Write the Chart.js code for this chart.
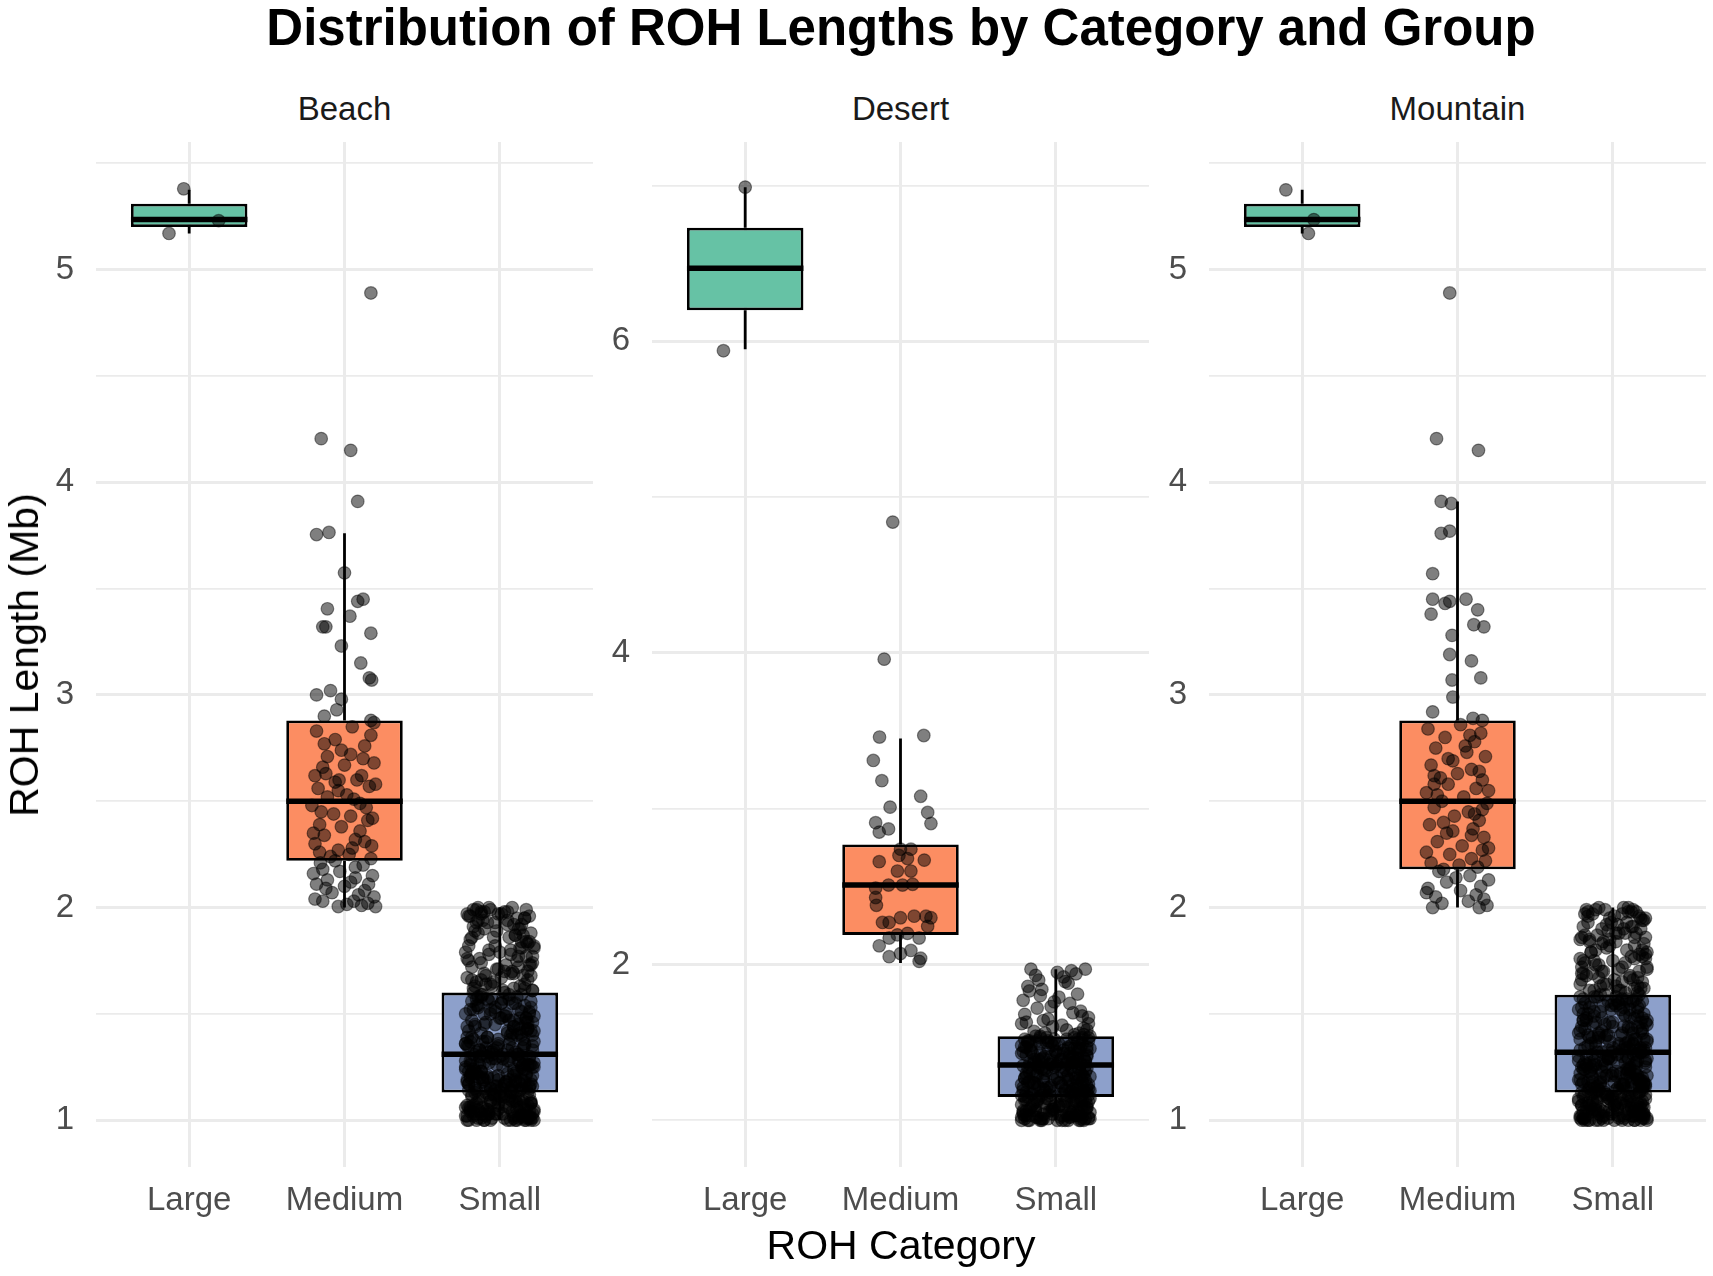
<!DOCTYPE html>
<html>
<head>
<meta charset="utf-8">
<script src="https://cdn.jsdelivr.net/npm/chart.js@4.4.0/dist/chart.umd.min.js"></script>
<style>
  body { margin: 0; background: #fff; width: 1713px; height: 1276px; position: relative; overflow: hidden;
         font-family: "Liberation Sans", Arial, sans-serif; }
  canvas { position: absolute; top: 130px; }
  #title { position: absolute; left: 96px; top: 0px; width: 1610px; text-align: center;
           font-weight: bold; font-size: 51px; line-height: 56px; color: #000; }
  .strip { position: absolute; top: 89px; width: 497px; text-align: center;
           font-size: 33px; line-height: 40px; color: #1a1a1a; }
  #xtitle { position: absolute; left: 96px; width: 1610px; top: 1221px; text-align: center;
            font-size: 41px; line-height: 48px; color: #000; }
  #ytitle { position: absolute; left: 24px; top: 655px; font-size: 41px; line-height: 48px; color: #000;
            white-space: nowrap; transform: translate(-50%, -50%) rotate(-90deg); }
</style>
</head>
<body>
<div id="title">Distribution of ROH Lengths by Category and Group</div>
<div class="strip" style="left:96px">Beach</div>
<div class="strip" style="left:652px">Desert</div>
<div class="strip" style="left:1209px">Mountain</div>
<canvas id="c0" width="593" height="1097" style="left:0px"></canvas>
<canvas id="c1" width="593" height="1097" style="left:556px"></canvas>
<canvas id="c2" width="593" height="1097" style="left:1113px"></canvas>
<div id="xtitle">ROH Category</div>
<div id="ytitle">ROH Length (Mb)</div>
<script>
const groups = ['Beach', 'Desert', 'Mountain'];
const categories = ['Large', 'Medium', 'Small'];
const boxColors = ['#66C2A5', '#FC8D62', '#8DA0CB'];

// box stats, one value per category (Large, Medium, Small)
const beachLow    = [5.17, 2.00, 1.00];
const beachQ1     = [5.20, 2.22, 1.13];
const beachMedian = [5.235, 2.50, 1.31];
const beachQ3     = [5.31, 2.88, 1.60];
const beachHigh   = [5.375, 3.76, 2.00];

const desertLow    = [5.95, 2.01, 1.00];
const desertQ1     = [6.20, 2.19, 1.15];
const desertMedian = [6.47, 2.51, 1.355];
const desertQ3     = [6.73, 2.77, 1.54];
const desertHigh   = [6.99, 3.45, 1.97];

const mountainLow    = [5.17, 2.00, 1.00];
const mountainQ1     = [5.20, 2.18, 1.13];
const mountainMedian = [5.235, 2.50, 1.32];
const mountainQ3     = [5.31, 2.88, 1.59];
const mountainHigh   = [5.375, 3.91, 2.00];

// y axes
const beachYRange = [0.78, 5.6];
const beachYTicks = [1, 1.5, 2, 2.5, 3, 3.5, 4, 4.5, 5, 5.5];
const beachYLabels = [1, 2, 3, 4, 5];
const desertYRange = [0.70, 7.28];
const desertYTicks = [1, 2, 3, 4, 5, 6, 7];
const desertYLabels = [2, 4, 6];

// jittered points: values and horizontal jitter (category units)
const beachLargeY = [5.38, 5.17, 5.23];
const beachLargeJit = [-0.035, -0.13, 0.19];
const beachMediumY = [4.89,4.205,4.15,3.91,3.754,3.764,3.574,3.405,3.37,3.44,3.45,3.32,3.32,3.29,3.23,3.15,3.08,3.07,3.0,3.02,2.98,2.90,2.93,2.88,2.87,
  2.83,2.77,2.71,2.72,2.76,2.70,2.66,2.67,2.60,2.60,2.59,2.56,2.57,2.52,2.53,2.49,2.48,2.44,2.43,2.39,2.38,2.41,2.34,2.32,2.30,2.27,2.29,2.24,2.25,2.21,
  2.20,2.16,2.17,2.13,2.14,2.11,2.11,2.10,2.07,2.06,2.05,2.03,2.015,2.005,2.005,2.02,
  2.85,2.81,2.74,2.68,2.63,2.62,2.58,2.55,2.51,2.47,2.45,2.42,2.36,2.35,2.31,2.28,2.26,2.23,2.22,2.19,2.18,2.15,2.12,2.09,2.08,2.04,2.03,2.01,2.62,2.79];
const beachMediumJit = [0.17,-0.15,0.04,0.085,-0.18,-0.10,0.0,-0.11,0.035,0.085,0.12,-0.14,-0.12,0.17,-0.02,0.105,0.16,0.175,-0.18,-0.09,-0.02,-0.13,-0.05,0.17,0.19,
  -0.18,-0.13,-0.11,0.04,0.13,0.12,-0.14,0.0,0.08,-0.035,-0.06,-0.17,0.16,-0.11,0.015,0.10,-0.21,-0.07,0.04,-0.16,-0.02,0.15,-0.13,0.07,-0.19,-0.04,0.175,-0.09,0.03,-0.155,
  0.12,-0.2,-0.03,-0.11,0.07,-0.18,0.155,0.0,-0.08,0.09,0.19,-0.14,0.015,-0.04,0.2,0.15,
  0.05,0.17,-0.02,0.19,-0.12,0.11,0.2,-0.04,0.06,0.14,-0.15,0.18,0.1,-0.2,0.13,0.05,-0.16,0.17,-0.06,0.07,-0.14,0.18,0.04,-0.12,0.13,-0.19,0.06,0.11,-0.19,-0.06];
const beachSmallY = [1.00,1.01,1.00,1.02,1.03,1.01,1.04,1.00,1.05,1.02,1.06,1.03,1.07,1.01,1.08,1.04,1.09,1.00,1.10,1.05,1.11,1.02,1.12,1.06,1.13,1.03,1.08,1.01,1.10,1.04,1.07,1.12,1.00,1.09,1.05,1.11,1.02,1.06,1.13,1.03,1.00,1.04,1.01,1.08,1.02,
  1.14,1.22,1.17,1.29,1.15,1.25,1.19,1.30,1.16,1.27,1.21,1.14,1.24,1.18,1.31,1.20,1.26,1.15,1.23,1.28,1.17,1.30,1.19,1.22,1.14,1.26,1.16,1.29,1.21,1.18,1.25,1.20,1.31,1.15,1.27,1.23,1.17,1.28,1.19,1.24,1.16,1.30,1.21,1.26,1.18,
  1.33,1.48,1.37,1.55,1.41,1.59,1.35,1.52,1.44,1.32,1.57,1.39,1.50,1.46,1.34,1.58,1.42,1.36,1.53,1.47,1.40,1.56,1.33,1.49,1.43,1.38,1.60,1.45,1.51,1.35,1.54,1.41,1.48,1.37,1.57,1.44,1.32,1.52,1.39,1.59,1.46,1.36,1.50,1.42,1.55,
  1.62,1.91,1.70,1.98,1.66,1.84,1.75,1.95,1.63,1.88,1.79,2.00,1.68,1.93,1.72,1.86,1.61,1.97,1.77,1.82,1.65,1.99,1.73,1.90,1.69,1.85,1.96,1.64,1.80,1.94,1.71,1.87,1.99,1.67,1.83,1.76,1.92,2.00,1.74,1.89,1.97,1.78,1.81,1.95,1.98,
  1.01,1.05,1.00,1.09,1.03,1.11,1.02,1.07,1.00,1.04,1.10,1.06,1.01,1.12,1.03,1.08,1.00,1.05,1.11,1.02,1.09,1.04,1.00,1.07,1.03,1.12,1.06,1.01,1.10,1.02,1.08,1.05,1.00,1.11,1.04,1.07,1.01,1.09,1.03,1.06,
  1.20,1.14,1.27,1.17,1.30,1.22,1.15,1.25,1.19,1.29,1.13,1.23,1.18,1.28,1.16,1.21,1.31,1.24,1.14,1.26,1.19,1.17,1.30,1.22,1.15,1.27,1.20,1.25,1.13,1.29,1.18,1.23,1.16,1.28,1.21,1.31,1.14,1.24,1.19,1.26,
  1.45,1.32,1.56,1.38,1.50,1.35,1.59,1.42,1.47,1.33,1.53,1.40,1.57,1.36,1.44,1.51,1.34,1.48,1.58,1.39,1.46,1.31,1.54,1.41,1.49,1.37,1.60,1.43,1.52,1.35,1.55,1.38,1.45,1.33,1.50,1.42,1.57,1.36,1.48,1.40,
  1.64,1.90,1.73,1.99,1.61,1.82,1.95,1.69,1.86,1.77,1.97,1.66,1.92,1.71,1.84,2.00,1.63,1.79,1.94,1.68,1.88,1.75,1.98,1.62,1.81,1.93,1.70,1.87,1.96,1.67,
  1.02,1.07,1.13,1.19,1.26,1.34,1.43,1.52,1.00,1.05,1.10,1.16,1.23,1.31,1.39,1.48,1.57,1.03,1.08,1.14,1.21,1.28,1.36,1.45,1.55,1.01,1.06,1.12,1.18,1.25,
  1.33,1.41,1.50,1.59,1.04,1.09,1.15,1.22,1.29,1.37,1.46,1.54,1.00,1.05,1.11,1.17,1.24,1.32,1.40,1.49,1.58,1.02,1.08,1.13,1.20,1.27,1.35,1.44,1.53,1.01,
  1.06,1.12,1.18,1.26,1.34,1.42,1.51,1.03,1.09,1.15,1.22,1.30,1.38,1.47,1.56,1.00,1.04,1.11,1.19,1.28,
  1.63,1.87,1.70,1.96,1.66,1.80,1.92,1.74,1.61,1.89,1.78,1.99,1.68,1.84,1.72,1.94,1.65,1.82,1.97,1.76,1.62,1.90,1.69,1.86,1.98,1.73,1.64,1.81,1.93,1.77];
const beachSmallJit = [-0.21,-0.12,0.05,0.18,-0.03,0.21,-0.17,0.10,-0.08,0.14,-0.20,0.02,0.16,-0.14,-0.05,0.08,0.20,-0.10,0.12,-0.19,0.00,0.19,-0.07,0.06,-0.16,0.15,-0.01,0.09,-0.13,0.22,0.04,-0.18,0.17,-0.06,0.11,-0.11,-0.22,0.13,0.07,-0.02,-0.15,-0.19,0.12,0.20,-0.09,
  0.11,-0.18,0.03,0.19,-0.09,0.14,-0.21,0.07,-0.02,-0.14,0.21,-0.06,0.09,0.16,-0.17,-0.04,0.18,0.01,-0.12,0.12,-0.20,-0.08,0.20,0.05,-0.15,0.15,0.08,-0.03,-0.19,0.10,0.22,-0.11,0.02,0.17,-0.07,-0.16,0.13,0.06,-0.10,-0.22,0.19,0.14,-0.01,-0.13,0.04,
  -0.04,0.17,-0.19,0.08,0.13,-0.11,0.21,-0.06,-0.16,0.10,0.02,-0.21,0.19,-0.09,0.15,-0.14,0.05,-0.01,0.20,-0.18,0.11,-0.07,-0.13,0.03,0.18,0.07,-0.17,-0.03,0.14,-0.20,0.16,-0.12,0.00,0.22,-0.05,0.09,-0.15,0.12,-0.08,0.06,0.21,-0.22,-0.10,0.17,0.01,
  0.09,-0.17,0.18,0.03,-0.12,0.14,-0.20,0.11,-0.05,0.20,0.00,-0.14,0.15,-0.08,-0.18,0.06,0.21,-0.21,0.12,-0.03,-0.15,0.17,0.04,0.13,-0.10,-0.19,0.19,0.16,0.07,-0.11,-0.02,0.10,-0.06,-0.21,0.18,-0.13,0.05,0.08,0.21,-0.16,-0.01,-0.07,0.14,0.16,-0.12,
  0.03,-0.14,0.16,-0.06,0.21,-0.18,0.09,-0.01,-0.20,0.13,0.06,-0.11,0.19,-0.04,-0.16,0.11,0.22,-0.08,0.01,-0.21,0.15,-0.13,0.07,0.18,-0.07,0.04,-0.19,0.20,-0.02,0.12,-0.15,0.17,-0.10,0.10,0.19,-0.17,-0.05,0.08,0.14,-0.22,
  -0.19,0.07,-0.10,0.20,0.00,-0.15,0.14,-0.22,0.10,-0.05,0.18,-0.12,0.04,-0.18,0.21,-0.08,0.12,0.16,-0.20,-0.02,0.06,-0.16,0.19,0.09,-0.06,0.22,-0.13,0.02,-0.09,0.15,-0.21,0.11,-0.03,0.05,0.17,-0.11,0.13,-0.17,-0.01,0.20,
  0.12,-0.07,0.20,-0.17,0.04,0.16,-0.12,-0.20,0.09,0.21,-0.03,0.14,-0.15,0.06,-0.21,0.19,-0.09,0.01,0.11,-0.18,0.17,-0.05,-0.14,0.08,0.22,-0.11,0.03,0.18,-0.19,-0.01,0.10,0.15,-0.16,0.05,-0.06,0.20,-0.08,-0.22,0.13,0.07,
  -0.09,0.12,0.19,-0.15,0.02,-0.20,0.16,0.07,-0.04,0.21,-0.12,-0.18,0.09,-0.01,0.17,-0.07,0.13,-0.22,0.05,0.20,-0.14,0.11,-0.10,-0.17,0.22,-0.03,0.08,0.15,-0.19,0.01,
  0.15,-0.21,0.08,-0.11,0.19,-0.02,0.13,-0.17,-0.06,0.22,-0.14,0.03,-0.20,0.11,-0.08,0.17,0.06,-0.12,0.20,-0.03,0.09,-0.19,0.16,-0.10,0.01,0.18,-0.16,-0.04,0.12,0.21,
  -0.13,0.05,-0.22,0.14,-0.07,0.10,0.19,-0.18,0.02,-0.09,0.18,-0.15,0.11,-0.01,0.07,-0.20,0.15,-0.05,0.21,0.04,-0.12,-0.17,0.20,0.00,-0.08,0.13,-0.21,0.09,-0.14,0.16,
  0.05,0.19,-0.11,-0.19,0.08,0.22,-0.03,-0.07,0.12,-0.16,0.17,-0.13,-0.01,0.06,-0.18,0.20,-0.10,0.03,0.14,-0.22,
  -0.16,0.10,0.03,-0.20,0.18,-0.07,0.14,-0.12,0.21,-0.02,0.07,-0.17,-0.09,0.19,0.12,-0.14,-0.04,0.22,0.01,-0.21,0.16,-0.10,0.09,-0.18,0.05,0.20,-0.06,0.13,-0.15,0.17];

const desertLargeY = [6.99, 5.94];
const desertLargeJit = [0.0, -0.14];
const desertMediumY = [4.84,3.96,3.46,3.47,3.31,3.18,3.08,3.01,2.976,2.905,2.91,2.85,2.87,
  2.74,2.74,2.70,2.68,2.66,2.67,2.60,2.60,2.49,2.51,2.51,2.515,2.43,2.38,2.27,2.27,2.30,2.31,2.31,2.30,2.245,2.19,2.17,2.20,2.17,2.12,2.05,2.07,2.09,2.02,2.04];
const desertMediumJit = [-0.05,-0.105,-0.135,0.15,-0.175,-0.12,0.13,-0.067,0.175,0.196,-0.16,-0.137,-0.077,
  0.0,0.067,-0.01,0.045,-0.137,0.153,-0.02,0.067,-0.16,-0.077,0.013,0.078,-0.16,-0.155,-0.116,-0.073,0.0,0.088,0.164,0.196,0.175,-0.02,-0.073,0.045,0.12,-0.137,-0.073,0.0,0.067,0.12,0.13];
const desertSmallY = [1.00,1.03,1.08,1.01,1.12,1.05,1.00,1.14,1.02,1.09,1.06,1.15,1.01,1.04,1.11,1.00,1.07,1.13,1.03,1.10,1.02,1.06,1.14,1.00,1.08,1.04,1.12,1.01,1.09,1.05,1.15,1.03,1.00,1.11,1.07,1.02,1.13,1.06,1.01,1.10,
  1.17,1.30,1.22,1.35,1.19,1.27,1.16,1.33,1.24,1.20,1.29,1.18,1.34,1.25,1.21,1.31,1.16,1.28,1.23,1.35,1.19,1.26,1.32,1.17,1.22,1.30,1.25,1.18,1.34,1.20,1.28,1.24,1.16,1.33,1.21,1.27,1.19,1.31,1.23,1.29,
  1.37,1.50,1.42,1.53,1.39,1.46,1.36,1.52,1.44,1.40,1.48,1.38,1.54,1.45,1.41,1.51,1.36,1.47,1.43,1.53,1.39,1.49,1.37,1.44,1.52,1.40,1.46,1.38,1.50,1.42,1.54,1.36,1.48,1.41,1.45,1.51,1.39,1.47,1.43,1.49,
  1.56,1.81,1.63,1.95,1.58,1.72,1.88,1.60,1.67,1.97,1.55,1.77,1.92,1.62,1.84,1.57,1.70,1.96,1.65,1.79,1.59,1.90,1.68,1.75,1.94,1.61,1.83,1.56,1.73,1.97,1.64,1.86,1.58,1.69,1.93,1.76,1.62,1.89,1.66,1.80,
  1.02,1.09,1.00,1.13,1.05,1.01,1.11,1.07,1.03,1.15,1.00,1.08,1.04,1.12,1.06,1.01,1.10,1.02,1.14,1.05,1.00,1.09,1.03,1.12,1.07,1.01,1.11,1.04,1.00,1.13,1.06,1.02,1.08,1.15,1.03,
  1.26,1.18,1.33,1.21,1.16,1.29,1.24,1.35,1.19,1.27,1.17,1.31,1.22,1.34,1.20,1.25,1.16,1.30,1.23,1.18,1.36,1.26,1.21,1.32,1.17,1.28,1.24,1.19,1.34,1.22,1.30,1.16,1.27,1.20,1.33,
  1.44,1.38,1.51,1.41,1.47,1.36,1.53,1.43,1.49,1.39,1.46,1.52,1.37,1.42,1.50,1.45,1.40,1.54,1.38,1.48,1.43,1.36,1.51,1.41,1.46,1.53,1.39,1.44,1.50,1.47,
  1.01,1.06,1.12,1.19,1.27,1.36,1.45,1.53,1.00,1.04,1.09,1.15,1.22,1.30,1.39,1.48,1.02,1.07,1.13,1.20,1.28,1.37,1.46,1.55,1.00,1.05,1.10,1.17,1.24,1.33,
  1.42,1.51,1.03,1.08,1.14,1.21,1.29,1.38,1.47,1.01,1.06,1.11,1.18,1.25,1.34,1.43,1.52,1.02,1.04,1.09,1.16,1.23,1.31,1.40,1.49,1.00,1.07,1.13,1.26,1.35];
const desertSmallJit = [0.08,-0.17,0.20,-0.05,0.13,-0.21,0.01,-0.11,0.17,0.05,-0.19,0.10,0.22,-0.08,-0.14,0.15,-0.02,0.19,-0.20,0.03,-0.12,0.11,-0.06,0.18,-0.16,0.07,0.21,-0.09,-0.01,0.14,-0.18,0.04,-0.22,0.12,-0.13,0.09,0.16,-0.04,-0.10,0.20,
  -0.15,0.12,-0.03,0.19,0.06,-0.20,0.16,-0.09,0.02,0.21,-0.13,0.09,-0.18,0.14,-0.06,0.04,-0.22,0.18,0.11,-0.11,0.20,-0.01,0.07,-0.16,0.13,-0.19,0.17,-0.04,0.10,-0.08,0.22,-0.14,0.05,0.15,-0.21,0.01,-0.07,0.19,-0.12,0.08,
  0.11,-0.18,0.20,-0.06,0.03,0.16,-0.13,0.07,-0.21,0.14,-0.02,0.19,-0.10,-0.16,0.09,0.21,-0.04,-0.19,0.05,0.12,-0.09,0.17,-0.14,0.00,-0.20,0.18,0.08,-0.11,-0.03,0.13,0.22,-0.17,0.10,-0.07,0.15,-0.12,0.04,0.20,-0.22,-0.01,
  -0.07,0.14,-0.19,0.01,0.20,-0.12,0.08,-0.02,0.17,-0.16,0.12,-0.21,0.05,0.21,-0.09,-0.14,0.16,0.10,-0.05,0.02,0.18,-0.11,-0.20,0.09,0.13,0.04,-0.17,0.15,-0.03,0.19,-0.08,-0.18,0.07,0.11,-0.13,-0.01,-0.22,0.06,0.21,-0.10,
  -0.13,0.18,0.04,-0.20,0.10,0.21,-0.07,-0.17,0.13,0.00,-0.10,0.20,-0.02,0.07,-0.21,0.16,-0.15,0.09,-0.05,0.22,-0.18,0.02,0.14,-0.12,0.19,-0.08,0.11,-0.19,0.06,0.17,-0.03,-0.22,0.15,-0.11,0.08,
  0.09,-0.19,0.15,-0.04,0.21,-0.12,0.03,-0.21,0.18,-0.08,0.12,-0.15,0.20,-0.01,0.06,-0.17,-0.09,0.16,-0.22,0.10,0.01,0.19,-0.14,-0.06,0.14,0.07,-0.18,0.22,-0.11,0.04,-0.02,0.17,-0.20,0.11,-0.07,
  -0.16,0.13,-0.05,0.20,-0.20,0.07,0.17,-0.10,0.02,-0.14,0.22,-0.01,0.11,-0.19,0.15,0.05,-0.08,-0.13,0.19,-0.22,0.09,0.16,-0.17,-0.03,0.12,0.21,-0.11,0.00,-0.06,0.14,
  0.19,-0.14,0.06,-0.21,0.13,-0.03,0.20,-0.10,-0.17,0.09,0.02,-0.20,0.16,-0.07,0.11,-0.16,0.21,-0.01,-0.12,0.14,-0.19,0.07,-0.05,0.18,-0.09,0.15,-0.22,0.04,-0.14,0.20,
  0.01,-0.18,0.12,-0.06,0.22,-0.11,0.17,-0.02,0.08,-0.20,-0.13,0.10,0.19,-0.08,0.05,-0.15,0.14,0.03,-0.21,0.17,-0.04,0.21,-0.17,0.11,-0.10,0.16,-0.02,-0.19,0.08,0.00];

const mountainLargeY = [5.375, 5.17, 5.235];
const mountainLargeJit = [-0.105, 0.04, 0.075];
const mountainMediumY = [4.89,4.205,4.15,3.91,3.90,3.76,3.77,3.57,3.45,3.44,3.45,3.40,3.38,3.43,3.28,3.33,3.32,3.19,3.16,3.07,3.08,2.92,2.99,2.89,2.88,
  2.86,2.84,2.82,2.80,2.78,2.75,2.73,2.71,2.69,2.67,2.65,2.63,2.61,2.60,2.58,2.56,2.54,2.52,2.50,2.49,2.47,2.45,2.43,2.41,2.39,2.37,2.35,2.33,2.31,2.29,
  2.27,2.25,2.23,2.21,2.19,2.18,2.76,2.62,2.55,2.44,2.36,2.26,2.22,2.17,2.15,2.13,2.12,2.10,2.09,2.08,2.06,2.05,2.04,2.03,2.02,2.01,2.00,2.00,2.14,2.07,
  2.58,2.46,2.34,2.70,2.81,2.64,2.53,2.40,2.28,2.20];
const mountainMediumJit = [-0.05,-0.135,0.135,-0.105,-0.04,-0.105,-0.05,-0.16,-0.16,-0.05,0.055,0.13,-0.17,-0.08,-0.035,0.105,0.17,-0.05,0.09,-0.035,0.15,-0.16,-0.03,0.10,0.16,
  0.02,-0.19,0.15,-0.08,0.11,-0.14,0.06,0.18,-0.03,-0.17,0.09,0.0,-0.11,0.16,-0.06,0.12,-0.2,0.04,-0.1,0.19,-0.15,0.07,-0.02,0.14,-0.18,0.1,-0.07,0.17,-0.13,0.03,
  0.16,-0.05,0.09,-0.17,0.13,-0.09,0.05,-0.15,0.2,0.11,-0.03,-0.2,0.18,-0.12,0.08,0.2,-0.07,0.15,-0.19,0.02,0.12,-0.14,0.17,0.07,-0.1,0.19,-0.16,0.14,-0.01,-0.2,
  -0.15,0.16,0.09,-0.06,0.08,0.14,-0.13,-0.09,0.2,0.01];
const mountainSmallY = [1.00,1.02,1.05,1.01,1.09,1.03,1.12,1.00,1.07,1.04,1.11,1.02,1.06,1.13,1.01,1.08,1.03,1.10,1.00,1.05,1.12,1.04,1.07,1.01,1.09,1.02,1.13,1.06,1.00,1.11,1.03,1.08,1.05,1.01,1.10,1.04,1.12,1.00,1.06,1.02,1.09,1.03,1.07,1.11,1.01,1.05,1.08,1.00,1.13,1.04,
  1.15,1.28,1.19,1.24,1.14,1.31,1.21,1.17,1.26,1.30,1.16,1.23,1.29,1.18,1.25,1.14,1.32,1.20,1.27,1.16,1.22,1.30,1.15,1.26,1.19,1.28,1.17,1.24,1.31,1.21,1.14,1.27,1.18,1.23,1.29,1.16,1.25,1.20,1.32,1.15,1.22,1.28,1.17,1.26,1.19,1.30,1.21,1.24,1.18,1.27,
  1.34,1.51,1.40,1.57,1.36,1.46,1.55,1.33,1.43,1.58,1.38,1.49,1.35,1.53,1.41,1.47,1.59,1.37,1.52,1.44,1.33,1.56,1.39,1.48,1.42,1.54,1.36,1.50,1.45,1.58,1.34,1.46,1.55,1.40,1.52,1.38,1.57,1.43,1.49,1.35,1.53,1.41,1.59,1.37,1.47,1.56,1.44,1.50,1.39,1.54,
  1.61,1.88,1.72,1.97,1.65,1.81,1.93,1.68,1.76,2.00,1.63,1.85,1.99,1.70,1.90,1.60,1.79,1.95,1.67,1.83,1.74,1.98,1.62,1.87,1.92,1.69,1.77,1.96,1.64,1.84,2.00,1.71,1.89,1.66,1.80,1.94,1.73,1.86,1.99,1.61,1.78,1.91,1.68,1.97,1.75,1.82,1.95,1.63,1.88,1.98,
  1.04,1.00,1.08,1.02,1.11,1.06,1.01,1.09,1.03,1.12,1.00,1.07,1.05,1.10,1.02,1.04,1.08,1.01,1.11,1.06,1.00,1.03,1.09,1.05,1.12,1.02,1.07,1.00,1.10,1.04,1.01,1.08,1.06,1.11,1.03,1.00,1.09,1.05,1.02,1.07,
  1.25,1.16,1.30,1.19,1.13,1.27,1.22,1.15,1.32,1.18,1.24,1.14,1.29,1.21,1.17,1.26,1.31,1.20,1.15,1.28,1.23,1.13,1.19,1.30,1.16,1.25,1.22,1.14,1.27,1.18,1.32,1.21,1.17,1.24,1.29,1.15,1.20,1.26,1.16,1.23,
  1.41,1.55,1.34,1.48,1.38,1.58,1.44,1.33,1.51,1.37,1.46,1.56,1.40,1.35,1.53,1.43,1.49,1.32,1.57,1.39,1.47,1.36,1.54,1.42,1.50,1.34,1.59,1.45,1.38,1.52,1.41,1.35,1.56,1.44,1.48,1.33,1.55,1.40,1.46,1.37,
  1.71,1.96,1.62,1.85,1.78,1.99,1.66,1.91,1.74,1.83,1.60,1.94,1.69,1.88,1.76,2.00,1.64,1.80,1.97,1.72,1.86,1.67,1.93,1.79,1.61,1.90,1.75,1.98,1.70,1.84,
  1.01,1.06,1.12,1.18,1.25,1.33,1.42,1.51,1.00,1.04,1.09,1.15,1.22,1.30,1.38,1.47,1.56,1.02,1.07,1.13,1.20,1.27,1.35,1.44,1.54,1.00,1.05,1.11,1.17,1.24,
  1.32,1.40,1.49,1.58,1.03,1.08,1.14,1.21,1.28,1.36,1.45,1.53,1.01,1.06,1.10,1.16,1.23,1.31,1.39,1.48,1.57,1.02,1.07,1.12,1.19,1.26,1.34,1.43,1.52,1.00,
  1.05,1.11,1.17,1.25,1.33,1.41,1.50,1.03,1.08,1.14,1.21,1.29,1.37,1.46,1.55,1.01,1.04,1.10,1.18,1.27,
  1.67,1.91,1.62,1.84,1.75,1.98,1.70,1.88,1.64,1.95,1.79,1.61,1.86,1.73,1.99,1.66,1.82,1.93,1.77,1.69,1.90,1.63,1.85,1.96,1.72,1.80,1.65,1.92,1.76,1.87];
const mountainSmallJit = [0.14,-0.20,0.03,0.19,-0.10,-0.01,0.21,-0.15,0.08,-0.06,-0.19,0.12,0.17,-0.12,-0.03,0.05,0.20,-0.22,0.10,-0.08,0.15,-0.17,0.01,0.22,-0.13,0.07,-0.05,0.18,-0.18,0.11,-0.09,0.02,0.16,-0.21,-0.02,0.13,-0.14,0.06,0.20,-0.07,0.09,-0.16,0.19,-0.04,0.04,-0.11,0.13,0.18,-0.20,0.00,
  -0.06,0.16,-0.21,0.09,0.19,-0.13,0.02,0.21,-0.17,0.06,-0.10,0.14,-0.03,-0.19,0.11,0.04,0.20,-0.08,-0.15,0.17,0.00,-0.22,0.12,-0.05,0.18,-0.12,0.07,-0.18,0.15,0.22,-0.09,0.03,-0.16,0.10,-0.01,0.19,-0.20,0.13,-0.07,0.08,-0.14,0.21,0.05,-0.11,0.16,-0.04,0.11,-0.19,0.01,0.14,
  0.18,-0.08,0.05,-0.19,0.13,0.21,-0.14,-0.03,0.10,0.02,-0.21,0.16,-0.11,0.07,0.19,-0.17,-0.05,0.12,-0.01,-0.20,0.20,0.09,-0.13,0.14,-0.07,0.17,0.04,-0.16,0.22,-0.10,-0.18,0.00,0.11,-0.04,-0.22,0.15,0.06,0.19,-0.12,0.08,-0.15,0.13,0.17,-0.02,-0.19,0.03,0.10,0.20,-0.09,-0.06,
  -0.12,0.15,-0.20,0.06,0.19,-0.04,-0.16,0.11,0.21,-0.09,0.02,-0.21,0.13,-0.07,0.18,0.08,-0.14,-0.02,0.16,0.20,-0.18,0.10,0.14,-0.10,0.03,-0.19,0.12,0.17,-0.06,-0.15,0.07,0.22,-0.03,0.01,0.09,0.19,-0.11,-0.20,-0.05,0.05,0.17,0.12,-0.17,-0.13,0.00,0.14,0.21,-0.08,0.04,-0.16,
  0.17,-0.09,0.05,-0.21,0.12,-0.14,0.20,-0.03,0.09,-0.18,0.14,0.01,-0.12,0.21,-0.06,-0.19,0.16,0.07,-0.10,0.03,-0.16,0.19,-0.22,0.10,-0.04,0.13,-0.20,0.22,0.06,-0.13,-0.07,0.18,-0.17,0.00,0.15,-0.11,0.11,-0.02,0.20,-0.15,
  -0.04,0.20,-0.17,0.08,-0.11,0.15,-0.21,0.03,0.18,-0.08,0.11,-0.16,0.22,-0.01,0.06,-0.19,0.13,-0.13,0.19,-0.06,0.02,0.17,-0.22,0.09,-0.14,0.21,0.05,-0.09,-0.18,0.12,0.00,0.16,-0.20,0.10,-0.03,-0.12,0.19,-0.07,0.07,-0.15,
  0.06,-0.18,0.21,-0.07,0.14,-0.21,0.00,0.17,-0.12,0.10,-0.02,0.19,-0.16,0.04,-0.20,0.12,0.08,-0.10,0.15,-0.05,0.22,-0.14,0.02,0.18,-0.19,0.09,-0.08,-0.13,0.20,0.05,-0.22,0.13,-0.03,0.16,-0.17,0.11,0.01,-0.09,0.18,-0.11,
  0.04,-0.16,0.18,-0.02,0.21,-0.11,-0.20,0.13,0.08,-0.07,0.16,0.20,-0.13,0.02,-0.21,0.10,-0.04,0.19,-0.18,0.06,0.14,-0.09,-0.01,0.22,-0.15,0.07,-0.19,0.12,0.17,-0.06,
  -0.18,0.12,-0.04,0.20,-0.13,0.06,-0.21,0.16,0.01,-0.09,0.19,-0.15,0.09,-0.02,0.22,-0.19,0.13,0.04,-0.11,0.17,-0.06,0.21,-0.16,0.07,-0.01,-0.20,0.14,0.10,-0.08,-0.14,
  0.18,-0.03,0.11,-0.12,0.20,-0.17,0.02,0.15,-0.22,0.08,-0.05,0.16,-0.19,0.12,-0.10,0.21,-0.07,0.03,-0.15,0.19,0.09,0.14,-0.20,0.05,0.17,-0.12,0.00,-0.18,0.11,-0.06,
  -0.14,-0.01,0.20,0.15,-0.21,-0.09,0.07,0.18,-0.16,0.13,-0.04,0.10,0.22,-0.11,0.04,-0.19,0.16,-0.02,-0.13,0.08,
  0.11,-0.19,0.20,0.02,-0.12,0.15,-0.06,0.08,-0.21,0.18,-0.14,0.04,0.21,-0.09,-0.17,0.13,-0.02,0.09,0.19,-0.20,-0.07,0.16,-0.15,0.01,0.22,-0.11,0.06,-0.04,0.14,-0.18];

const boxWidth = 0.75;
const gridColor = '#EBEBEB';

function makePanel(id, stats, pts, yRange, yTicks, yLabels) {
    const [low, q1, med, q3, high] = stats;

    const boxes = categories.map((c, i) => ({ x: i + 1, y: [q1[i], q3[i]] }));
    const whiskers = [];
    const medians = [];
    categories.forEach((c, i) => {
        whiskers.push({ x: i + 1, y: low[i] }, { x: i + 1, y: q1[i] }, { x: i + 1, y: null });
        whiskers.push({ x: i + 1, y: q3[i] }, { x: i + 1, y: high[i] }, { x: i + 1, y: null });
        medians.push({ x: i + 1 - boxWidth / 2, y: med[i] }, { x: i + 1 + boxWidth / 2, y: med[i] }, { x: i + 1, y: null });
    });
    const points = [];
    pts.forEach(([ys, js], i) => ys.forEach((y, k) => points.push({ x: i + 1 + js[k], y: y })));

    new Chart(document.getElementById(id), {
        type: 'scatter',
        data: {
            datasets: [
                { type: 'line', data: whiskers, borderColor: '#000', borderWidth: 2.8, pointRadius: 0,
                  showLine: true, spanGaps: false, order: 4 },
                { type: 'bar', data: boxes, backgroundColor: boxColors, borderColor: '#000', borderWidth: 2.8,
                  borderSkipped: false, barPercentage: boxWidth, categoryPercentage: 1, order: 3 },
                { type: 'line', data: medians, borderColor: '#000', borderWidth: 5.5, pointRadius: 0,
                  showLine: true, spanGaps: false, order: 2 },
                { type: 'scatter', data: points, pointRadius: 6.3, backgroundColor: 'rgba(0,0,0,0.5)',
                  borderColor: 'rgba(0,0,0,0.45)', borderWidth: 1.2, order: 1 }
            ]
        },
        options: {
            responsive: false,
            animation: false,
            events: [],
            layout: { autoPadding: false, padding: { top: 12, left: 0, right: 0, bottom: 0 } },
            plugins: { legend: { display: false }, tooltip: { enabled: false }, title: { display: false } },
            scales: {
                x: {
                    type: 'linear', min: 0.4, max: 3.6, offset: false,
                    afterBuildTicks: s => { s.ticks = categories.map((c, i) => ({ value: i + 1 })); },
                    afterFit: s => { s.height = 60; s.paddingLeft = 0; s.paddingRight = 0; },
                    ticks: { callback: v => categories[v - 1], color: '#4D4D4D', padding: 14,
                             font: { family: 'Liberation Sans', size: 33 }, maxRotation: 0, autoSkip: false },
                    grid: { color: gridColor, lineWidth: 3, drawTicks: false, offset: false },
                    border: { display: false }
                },
                y: {
                    type: 'linear', min: yRange[0], max: yRange[1],
                    afterBuildTicks: s => { s.ticks = yTicks.map(v => ({ value: v })); },
                    afterFit: s => { s.width = 96; s.paddingTop = 0; s.paddingBottom = 0; },
                    ticks: { callback: v => yLabels.includes(v) ? String(v) : '', color: '#4D4D4D', padding: 22,
                             font: { family: 'Liberation Sans', size: 33 }, autoSkip: false },
                    grid: { color: gridColor, lineWidth: c => yLabels.includes(c.tick.value) ? 3 : 1.7, drawTicks: false },
                    border: { display: false }
                }
            }
        }
    });
}

makePanel('c0', [beachLow, beachQ1, beachMedian, beachQ3, beachHigh],
    [[beachLargeY, beachLargeJit], [beachMediumY, beachMediumJit], [beachSmallY, beachSmallJit]],
    beachYRange, beachYTicks, beachYLabels);
makePanel('c1', [desertLow, desertQ1, desertMedian, desertQ3, desertHigh],
    [[desertLargeY, desertLargeJit], [desertMediumY, desertMediumJit], [desertSmallY, desertSmallJit]],
    desertYRange, desertYTicks, desertYLabels);
makePanel('c2', [mountainLow, mountainQ1, mountainMedian, mountainQ3, mountainHigh],
    [[mountainLargeY, mountainLargeJit], [mountainMediumY, mountainMediumJit], [mountainSmallY, mountainSmallJit]],
    beachYRange, beachYTicks, beachYLabels);
</script>
</body>
</html>
